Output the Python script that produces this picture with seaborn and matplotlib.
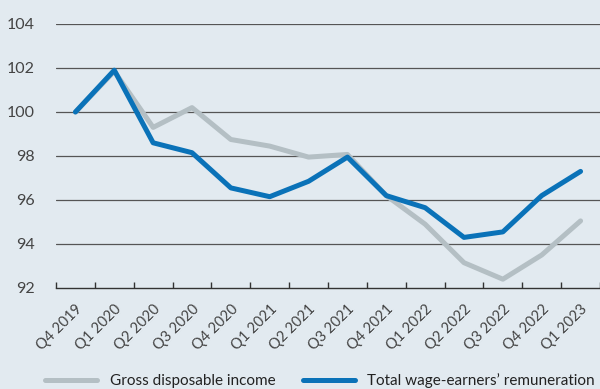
import matplotlib
matplotlib.use("Agg")
import matplotlib.pyplot as plt
import seaborn as sns
import pandas as pd
import numpy as np
from matplotlib.lines import Line2D

quarters = ["Q4 2019", "Q1 2020", "Q2 2020", "Q3 2020", "Q4 2020", "Q1 2021", "Q2 2021",
            "Q3 2021", "Q4 2021", "Q1 2022", "Q2 2022", "Q3 2022", "Q4 2022", "Q1 2023"]
gross_income = [100.0, 101.85, 99.3, 100.2, 98.75, 98.45, 97.95,
                98.07, 96.2, 94.9, 93.15, 92.4, 93.5, 95.05]
wage_remun = [100.0, 101.9, 98.6, 98.15, 96.55, 96.15, 96.85,
              97.95, 96.2, 95.65, 94.3, 94.55, 96.2, 97.3]
yticks = [92, 94, 96, 98, 100, 102, 104]

sns.set_theme(style="white")
plt.rcParams['font.family'] = ['Lato', 'DejaVu Sans']

bg = "#E2EAF0"
grey = "#B4BFC4"
blue = "#0A72B8"

df = pd.DataFrame({
    "x": list(range(len(quarters))) * 2,
    "value": gross_income + wage_remun,
    "series": ["Gross disposable income"] * len(quarters) + ["Total wage-earners\u2019 remuneration"] * len(quarters),
})

fig = plt.figure(figsize=(6.0, 3.89), dpi=100)
fig.patch.set_facecolor(bg)
W, H = 600, 389
ax = fig.add_axes([56 / W, 1 - 288 / H, (600 - 56) / W, (288 - 24) / H])
ax.set_facecolor(bg)

for y in yticks[1:]:
    ax.axhline(y, color="#555555", lw=0.9, zorder=1)

sns.lineplot(data=df, x="x", y="value", hue="series",
             palette={"Gross disposable income": grey,
                      "Total wage-earners\u2019 remuneration": blue},
             lw=3.6, ax=ax, legend=False, zorder=3)

ax.set_xlim(-0.5, -0.5 + 544 / 39.6)
ax.set_ylim(92, 104)
ax.set_yticks(yticks)
ax.set_yticklabels([str(v) for v in yticks], fontsize=11.5, color="#444444")
ax.set_xticks(range(len(quarters)))
ax.set_xticklabels(quarters, rotation=45, ha="right", va="top",
                   rotation_mode="anchor", fontsize=10.5, color="#444444")
ax.set_xticks(np.arange(-0.5, len(quarters), 1.0), minor=True)
ax.tick_params(axis="x", which="major", length=0, pad=10)
ax.tick_params(axis="x", which="minor", length=4, width=1.0, direction="in",
               color="#333333", bottom=True)
ax.tick_params(axis="y", length=0, pad=15)
for s in ["top", "right", "left"]:
    ax.spines[s].set_visible(False)
ax.spines["bottom"].set_color("#333333")
ax.spines["bottom"].set_linewidth(1.0)
ax.set_xlabel("")
ax.set_ylabel("")

handles = [Line2D([0], [0], color=grey, lw=3.6, solid_capstyle="round"),
           Line2D([0], [0], color=blue, lw=3.6, solid_capstyle="round")]
fig.legend(handles, ["Gross disposable income", "Total wage-earners\u2019 remuneration"],
           loc="center", bbox_to_anchor=(320 / W, 1 - 381 / H), ncol=2, frameon=False,
           fontsize=11, handlelength=3.4, columnspacing=1.8, handletextpad=0.8,
           labelcolor="#222222")

fig.savefig("out.png", dpi=100, facecolor=bg)
